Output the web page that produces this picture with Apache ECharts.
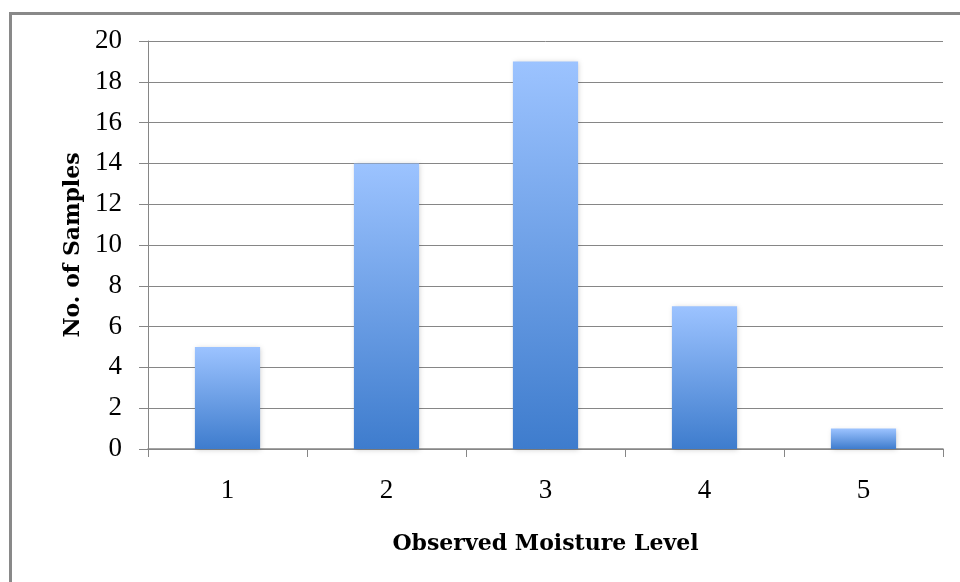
<!DOCTYPE html>
<html>
<head>
<meta charset="utf-8">
<style>html,body{margin:0;padding:0;background:#fff;}#c{width:960px;height:582px;}</style>
<script src="https://cdn.jsdelivr.net/npm/echarts@6/dist/echarts.min.js"></script>
</head>
<body>
<div id="c"></div>
<script>
const categories = ['1', '2', '3', '4', '5'];
const samples = [5, 14, 19, 7, 1];
const yMin = 0, yMax = 20, yStep = 2;
const xTitle = 'Observed Moisture Level';
const yTitle = 'No. of Samples';

const chart = echarts.init(document.getElementById('c'), null, {renderer: 'canvas'});
const titleFont = '"DejaVu Serif", serif';
const tickFont = '"Liberation Serif", "DejaVu Serif", serif';
chart.setOption({
  animation: false,
  backgroundColor: '#fff',
  graphic: [{
    type: 'rect', left: 8, top: 11, z: -1,
    shape: {width: 1000, height: 1000},
    style: {fill: 'none', stroke: '#898989', lineWidth: 3}
  }],
  grid: {left: 148, right: 17, top: 41, bottom: 133},
  xAxis: {
    type: 'category', data: categories, boundaryGap: true,
    name: xTitle, nameLocation: 'middle', nameGap: 84,
    nameTextStyle: {fontFamily: titleFont, fontWeight: 'bold', fontSize: 22, color: '#000'},
    axisLine: {lineStyle: {color: '#868686', width: 1.5}},
    axisTick: {show: true, length: 8, lineStyle: {color: '#868686'}, alignWithLabel: false},
    axisLabel: {fontFamily: tickFont, fontSize: 27, color: '#000', margin: 28}
  },
  yAxis: {
    type: 'value', min: yMin, max: yMax, interval: yStep,
    name: yTitle, nameLocation: 'middle', nameGap: 63,
    nameTextStyle: {fontFamily: titleFont, fontWeight: 'bold', fontSize: 22, color: '#000'},
    axisLine: {show: true, lineStyle: {color: '#868686', width: 1}},
    axisTick: {show: true, length: 9, lineStyle: {color: '#868686'}},
    axisLabel: {fontFamily: tickFont, fontSize: 27, color: '#000', margin: 26},
    splitLine: {lineStyle: {color: '#868686', width: 1}}
  },
  series: [{
    type: 'bar', data: samples, barWidth: '41%',
    itemStyle: {
      color: new echarts.graphic.LinearGradient(0, 0, 0, 1, [
        {offset: 0, color: '#9CC3FF'},
        {offset: 1, color: '#3E7CCD'}
      ]),
      shadowBlur: 5, shadowColor: 'rgba(0,0,0,0.18)', shadowOffsetX: 1, shadowOffsetY: 1
    }
  }]
});
</script>
</body>
</html>
